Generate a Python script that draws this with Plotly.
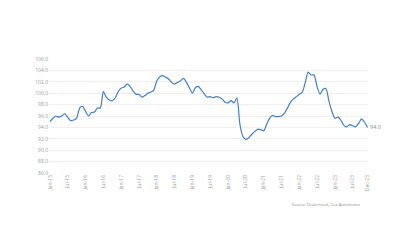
import pandas as pd
import plotly.graph_objects as go

# Monthly index values, Jan-2015 .. Dec-2023
months = pd.date_range("2015-01-01", "2023-12-01", freq="MS")
values = [
    95.0, 95.6, 96.0, 95.8, 96.0, 96.4, 95.8, 95.2, 95.3, 95.6, 97.4, 97.7,
    96.8, 96.0, 96.6, 96.7, 97.4, 97.4, 100.3, 99.3, 98.8, 98.7, 99.2, 100.3,
    100.9, 101.1, 101.6, 101.2, 100.4, 99.8, 99.8, 99.3, 99.6, 100.0, 100.2, 100.6,
    102.2, 102.9, 103.1, 102.8, 102.5, 101.9, 101.6, 101.9, 102.2, 102.6, 101.9, 100.9,
    100.0, 101.0, 101.2, 100.6, 99.9, 99.3, 99.4, 99.2, 99.4, 99.3, 99.0, 98.4,
    98.3, 98.7, 98.3, 99.2, 94.6, 92.4, 91.9, 92.2, 92.8, 93.3, 93.7, 93.6,
    93.4, 94.6, 95.6, 96.1, 95.9, 95.9, 96.0, 96.5, 97.4, 98.4, 99.0, 99.4,
    99.8, 100.2, 101.8, 103.7, 103.2, 103.2, 101.2, 99.8, 100.7, 100.8, 98.6, 96.8,
    95.6, 95.8, 95.3, 94.4, 94.1, 94.5, 94.3, 94.1, 94.7, 95.5, 94.9, 94.0,
]
tick_dates = list(pd.date_range("2015-01-01", "2023-07-01", freq="6MS")) + [pd.Timestamp("2023-12-01")]
tick_labels = [d.strftime("%b-%y") for d in tick_dates]
y_ticks = [86, 88, 90, 92, 94, 96, 98, 100, 102, 104, 106]
source_text = "Source: Dealertrack, Cox Automotive"

fig = go.Figure()
fig.add_trace(go.Scatter(
    x=months, y=values, mode="lines",
    line=dict(color="#3f7fce", width=1.2, shape="spline", smoothing=0.6),
    hoverinfo="skip", showlegend=False,
))
fig.add_annotation(
    x=months[-1], y=values[-1], text=f"{values[-1]:.1f}",
    xanchor="left", yanchor="middle", xshift=0, showarrow=False,
    font=dict(size=5.5, color="#888888"),
)
fig.add_annotation(
    xref="paper", yref="paper", x=0.985, y=-0.24, text=source_text,
    xanchor="right", yanchor="top", showarrow=False,
    font=dict(size=4, color="#888888"),
)
fig.update_layout(
    width=400, height=250,
    margin=dict(l=49, r=32, t=59, b=77),
    paper_bgcolor="white", plot_bgcolor="white",
    font=dict(family="Open Sans", size=5, color="#999999"),
    xaxis=dict(
        range=[months[0] - pd.Timedelta(days=10), months[-1] + pd.Timedelta(days=5)],
        tickvals=tick_dates, ticktext=tick_labels, tickangle=-90,
        showgrid=False, zeroline=False, showline=False, ticks="",
        tickfont=dict(size=5, color="#999999"),
    ),
    yaxis=dict(
        range=[86, 106], tickvals=y_ticks, tickformat=".1f",
        showgrid=True, gridcolor="#efefef", gridwidth=1,
        zeroline=False, showline=False, ticks="",
        tickfont=dict(size=5, color="#999999"),
    ),
)
fig.write_html("out.html")
